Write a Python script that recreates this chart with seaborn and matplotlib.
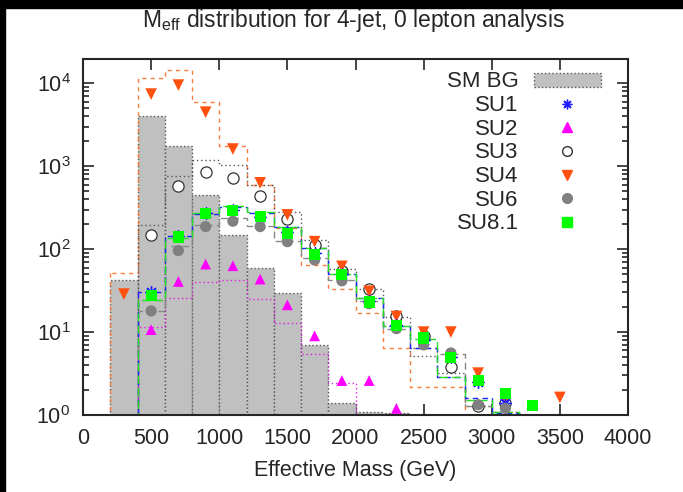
import numpy as np
import pandas as pd
import seaborn as sns
import matplotlib.pyplot as plt
from matplotlib.lines import Line2D
from matplotlib.patches import Patch

# Histogramas (bins de 200 GeV) y puntos de cada muestra
sm_edges = list(range(200, 2401, 200))
sm_bg = [42.7, 4040, 1760, 455, 146, 59, 29.5, 6.9, 1.4, 1.1, 1.05]

su_edges = list(range(400, 3201, 200))
su1_hist = [30.6, 142, 265, 320, 270, 184, 103, 50, 26, 11.7, 6.4, 2.9, 1.6, 1.05]
su3_hist = [196, 764, 1190, 1046, 600, 279, 129, 57.6, 33, 15, 5.1, 3.2, 1.3, 1.1]
su6_hist = [18, 108, 195, 236, 190, 125, 78, 42, 24, 11, 6.5, 5.5, 1.3, 1.1]
su81_hist = [24.5, 138, 275, 335, 280, 184, 103, 50, 26, 11.7, 8.2, 2.9, 1.5, 1.09]

su2_edges = list(range(400, 2001, 200))
su2_hist = [11.5, 26, 40.7, 42.7, 25, 13, 5.5, 2.4]

su4_edges = list(range(200, 2801, 200))
su4_hist = [51, 11500, 14600, 5900, 1740, 597, 180, 63.5, 33, 17.2, 6.5, 2.15, 2.15]

su1_x = list(range(500, 3101, 200))
su1_pts = [30, 145, 270, 300, 245, 160, 90, 50, 24, 12, 8, 5, 2.5, 1.4]
su2_x = list(range(500, 2301, 200))
su2_pts = [10.7, 40.7, 66, 63, 43.5, 21.3, 9.0, 2.6, 2.6, 1.2]
su3_x = list(range(500, 3101, 200))
su3_pts = [146, 580, 847, 717, 442, 230, 113, 55, 33, 15.7, 9, 3.8, 1.3, 1.4]
su4_x = list(range(300, 3101, 200)) + [3500]
su4_pts = [28.7, 7400, 9500, 4480, 1610, 630, 259, 123, 62, 31, 15.4, 10, 10, 3.2, 1.5, 1.63]
su6_x = list(range(500, 3101, 200))
su6_pts = [18, 96, 187, 217, 187, 123, 74, 41.5, 22, 11, 7, 5.6, 1.33, 1.2]
su81_x = list(range(500, 3301, 200))
su81_pts = [27.6, 140, 266, 292, 247, 156, 85.6, 49, 23, 12, 8.5, 4.9, 2.6, 1.8, 1.3]

sns.set_style('ticks')
plt.rcParams['font.family'] = ['Liberation Sans', 'DejaVu Sans']
plt.rcParams['mathtext.fontset'] = 'custom'
plt.rcParams['mathtext.rm'] = 'Liberation Sans'
plt.rcParams['mathtext.it'] = 'Liberation Sans'

fig = plt.figure(figsize=(6.83, 4.92), dpi=100)
ax = fig.add_axes([83 / 683, 1 - 415 / 492, 545 / 683, 356 / 492])
ax.set_yscale('log')


def tabla(edges, vals):
    e = np.array(edges, dtype=float)
    return pd.DataFrame({'m': (e[:-1] + e[1:]) / 2, 'n': vals})


# fondo SM
sns.histplot(data=tabla(sm_edges, sm_bg), x='m', weights='n', bins=sm_edges,
             element='bars', fill=True, color='#c0c0c0', facecolor='#c0c0c0',
             edgecolor='#555555', linestyle=':', linewidth=1.0, alpha=1, ax=ax)

# histogramas de las muestras SUSY (contorno)
pasos = [
    (su4_edges, su4_hist, '#ff7a3c', (0, (3, 3))),
    (su_edges, su3_hist, '#555555', (0, (1, 2))),
    (su2_edges, su2_hist, '#e020e0', (0, (1, 2))),
    (su_edges, su6_hist, '#888888', (0, (5, 3))),
    (su_edges, su1_hist, '#2020ff', (0, (4, 3))),
    (su_edges, su81_hist, '#22dd22', (0, (6, 3))),
]
for edges, vals, col, ls in pasos:
    sns.histplot(data=tabla(edges, vals), x='m', weights='n', bins=edges,
                 element='step', fill=True, color=col, facecolor='none',
                 edgecolor=col, linestyle=ls, linewidth=1.0, alpha=1, ax=ax)

# puntos
sns.scatterplot(x=su3_x, y=su3_pts, marker='o', s=65, facecolor='white',
                edgecolor='#333333', linewidth=0.9, ax=ax, zorder=3)
sns.scatterplot(x=su2_x, y=su2_pts, marker='^', s=60, color='#ff00ff',
                edgecolor='none', ax=ax, zorder=3)
sns.scatterplot(x=su4_x, y=su4_pts, marker='v', s=70, color='#ff5010',
                edgecolor='none', ax=ax, zorder=3)
sns.scatterplot(x=su1_x, y=su1_pts, marker=(8, 2, 0), s=70, color='#2020ff',
                linewidth=1.0, ax=ax, zorder=3)
sns.scatterplot(x=su6_x, y=su6_pts, marker='o', s=65, color='#808080',
                edgecolor='none', ax=ax, zorder=4)
sns.scatterplot(x=su81_x, y=su81_pts, marker='s', s=65, color='#00ff00',
                edgecolor='none', ax=ax, zorder=5)

ax.set_xlim(0, 4000)
ax.set_ylim(1, 1.96e4)
ax.set_xticks(np.arange(0, 4001, 500))
ax.tick_params(which='both', direction='in', top=True, right=True,
               labelsize=15.5, width=1.2)
ax.tick_params(which='major', length=8, pad=9)
ax.tick_params(which='minor', length=4)
ax.tick_params(axis='x', which='minor', top=False, bottom=False)
for s in ax.spines.values():
    s.set_linewidth(1.5)
    s.set_visible(True)

ax.set_xlabel('Effective Mass (GeV)', fontsize=15.5, labelpad=8)
ax.set_ylabel('')
fig.text(0.517, 0.958, r'M$_{\rm eff}$ distribution for 4-jet, 0 lepton analysis',
         ha='center', va='center', fontsize=16.5)

handles = [
    Patch(facecolor='#c0c0c0', edgecolor='#555555', linestyle=':', label='SM BG'),
    Line2D([], [], ls='none', marker=(8, 2, 0), color='#2020ff', ms=7, label='SU1'),
    Line2D([], [], ls='none', marker='^', color='#ff00ff', ms=7, label='SU2'),
    Line2D([], [], ls='none', marker='o', mfc='white', mec='#333333', ms=7, label='SU3'),
    Line2D([], [], ls='none', marker='v', color='#ff5010', ms=7, label='SU4'),
    Line2D([], [], ls='none', marker='o', color='#808080', ms=7, label='SU6'),
    Line2D([], [], ls='none', marker='s', color='#00ff00', ms=7, label='SU8.1'),
]
ax.legend(handles=handles, loc='upper right', bbox_to_anchor=(0.95, 0.965),
          frameon=False, markerfirst=False, fontsize=16, handlelength=3.0,
          handleheight=0.6, handletextpad=0.7, labelspacing=0.12,
          borderaxespad=0, borderpad=0)

# bordes negros de la captura original
fig.patches.append(plt.Rectangle((0, 1 - 8 / 492), 1, 8 / 492, color='black',
                                 transform=fig.transFigure, zorder=10))
fig.patches.append(plt.Rectangle((0, 0), 5 / 683, 1, color='black',
                                 transform=fig.transFigure, zorder=10))

fig.savefig('out.png', dpi=100)
